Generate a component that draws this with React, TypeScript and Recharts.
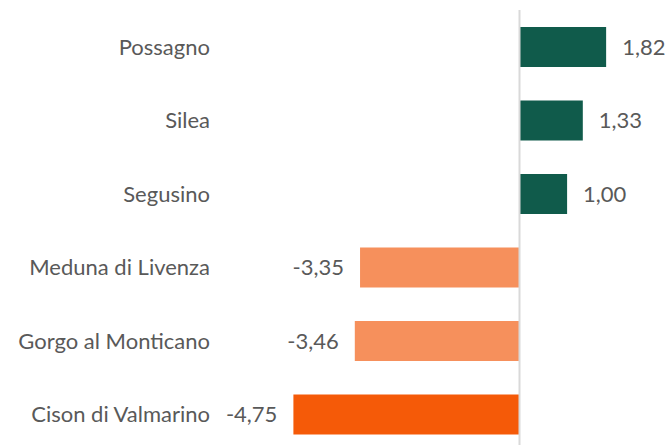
import React from 'react';
import { BarChart, Bar, XAxis, YAxis, Cell, LabelList, ReferenceLine } from 'recharts';

const comuni = ['Possagno', 'Silea', 'Segusino', 'Meduna di Livenza', 'Gorgo al Monticano', 'Cison di Valmarino'];
const variazioni = [1.82, 1.33, 1.0, -3.35, -3.46, -4.75];
const colori = ['#105B4B', '#105B4B', '#105B4B', '#F6905C', '#F6905C', '#F55A08'];

const data = comuni.map((name, i) => ({ name, value: variazioni[i] }));

const FONT = 'Lato, "Open Sans", sans-serif';
const TEXT = '#595959';

const formatValue = (v: number) => v.toFixed(2).replace('.', ',');

const ValueLabel = (props: any) => {
  const { x, y, width, height, value } = props;
  const left = Math.min(x, x + width);
  const right = Math.max(x, x + width);
  const cy = y + height / 2;
  const positive = value >= 0;
  return (
    <text
      x={positive ? right + 16 : left - 16}
      y={cy}
      dy="0.35em"
      textAnchor={positive ? 'start' : 'end'}
      fill={TEXT}
      fontSize={22}
      fontFamily={FONT}
    >
      {formatValue(value)}
    </text>
  );
};

export default function App() {
  return (
    <div style={{ position: 'absolute', left: 0, top: 0, width: 666, height: 445, overflow: 'hidden', background: '#fff' }}>
      <BarChart
        width={666}
        height={451}
        data={data}
        layout="vertical"
        margin={{ top: 10, right: 3.7, left: 0, bottom: 0 }}
      >
        <XAxis type="number" domain={[-6, 3]} hide />
        <YAxis
          type="category"
          dataKey="name"
          width={233.9}
          axisLine={false}
          tickLine={false}
          tickSize={0}
          tickMargin={23.9}
          tick={{ fill: TEXT, fontSize: 22, fontFamily: FONT }}
        />
        <Bar dataKey="value" barSize={40} isAnimationActive={false}>
          {data.map((d, i) => (
            <Cell key={d.name} fill={colori[i]} />
          ))}
          <LabelList dataKey="value" content={ValueLabel} />
        </Bar>
        <ReferenceLine x={0} stroke="#D9D9D9" strokeWidth={2} ifOverflow="extendDomain" />
      </BarChart>
    </div>
  );
}
